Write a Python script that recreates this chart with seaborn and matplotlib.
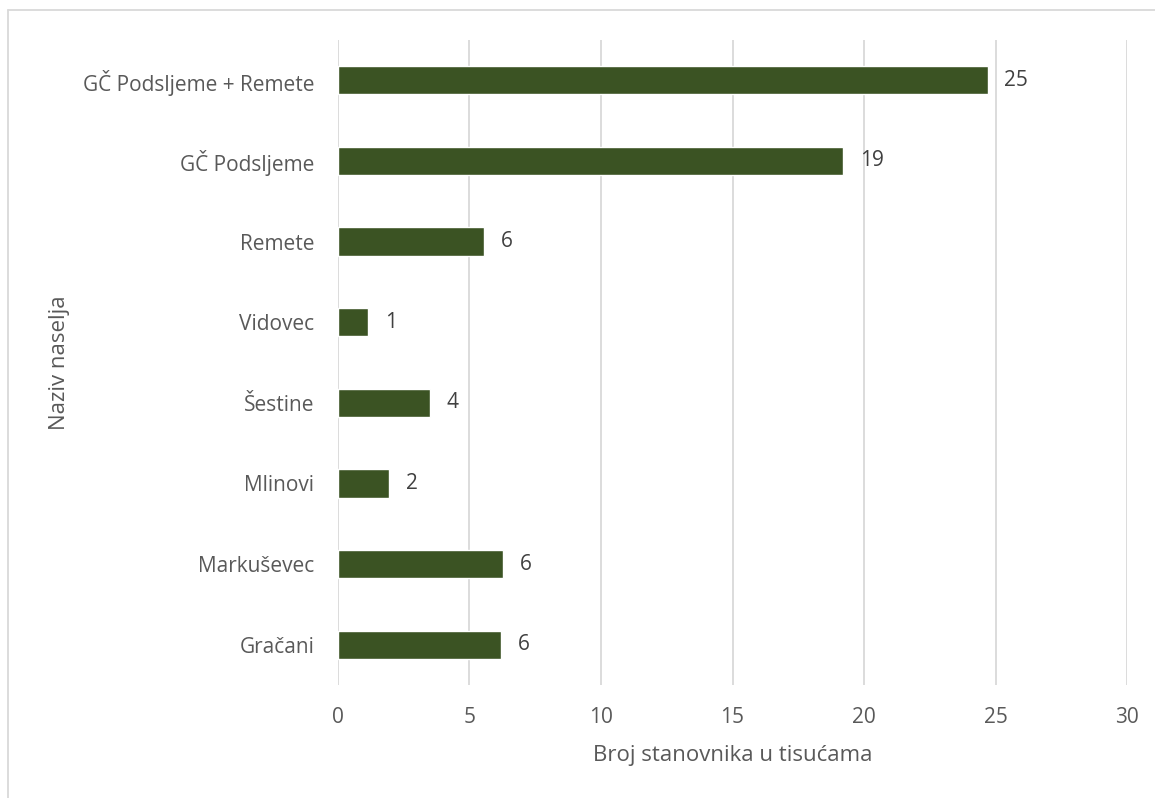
import numpy as np
import pandas as pd
import matplotlib.pyplot as plt
import seaborn as sns
from matplotlib.lines import Line2D

# values (thousands of inhabitants)
naselja = ["GČ Podsljeme + Remete", "GČ Podsljeme", "Remete", "Vidovec",
           "Šestine", "Mlinovi", "Markuševec", "Gračani"]
stanovnici = [24.7, 19.2, 5.55, 1.15, 3.5, 1.95, 6.28, 6.2]
oznake = ["25", "19", "6", "1", "4", "2", "6", "6"]

df = pd.DataFrame({"naselje": naselja, "broj": stanovnici})

sns.set_style("white")
plt.rcParams['font.family'] = ['Open Sans', 'DejaVu Sans']

fig = plt.figure(figsize=(11.55, 7.98), dpi=100)
ax = fig.add_axes([0.2926, 0.1416, 0.6832, 0.8083])

sns.barplot(data=df, x="broj", y="naselje", orient="h", color="#3B5323",
            width=0.35, saturation=1, ax=ax)
ax.bar_label(ax.containers[0], labels=oznake, padding=12, fontsize=15, color="#404040")

ax.set_xlim(0, 30)
ax.set_xticks(range(0, 31, 5))
ax.grid(axis="x", color="#D9D9D9", linewidth=1.3)
ax.set_axisbelow(True)
for s in ax.spines.values():
    s.set_visible(False)
ax.tick_params(axis="both", length=0, labelsize=15, labelcolor="#595959")
ax.tick_params(axis="x", pad=16)
ax.tick_params(axis="y", pad=17)

ax.set_xlabel("Broj stanovnika u tisućama", fontsize=16, color="#595959", labelpad=12)
ax.set_ylabel("Naziv naselja", fontsize=16, color="#595959")
ax.yaxis.set_label_coords(-0.34, 0.5)

# chart area border (only left and top edges visible in the crop)
x0 = 8 / 1155
y0 = 1 - 10 / 798
fig.lines.append(Line2D([x0, x0], [0, y0], transform=fig.transFigure,
                        color="#D9D9D9", linewidth=1.3))
fig.lines.append(Line2D([x0, 1], [y0, y0], transform=fig.transFigure,
                        color="#D9D9D9", linewidth=1.3))

fig.savefig("out.png", dpi=100)
